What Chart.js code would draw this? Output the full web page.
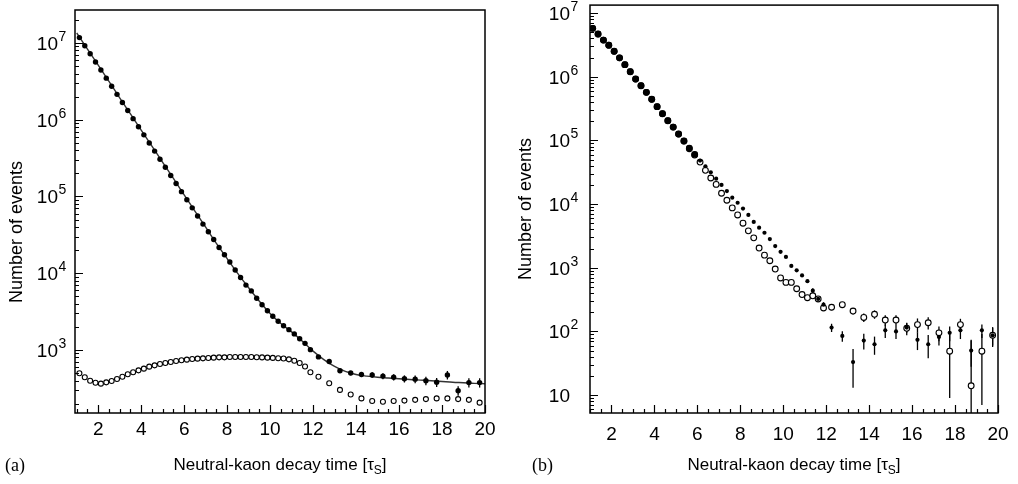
<!DOCTYPE html>
<html><head><meta charset="utf-8">
<script src="https://cdn.jsdelivr.net/npm/chart.js@4.4.1/dist/chart.umd.min.js"></script>
<style>
html,body{margin:0;padding:0;background:#fff;width:1018px;height:484px;overflow:hidden}
#wa{position:absolute;left:0;top:0;width:500px;height:484px}
#wb{position:absolute;left:500px;top:0;width:518px;height:484px}
</style></head><body>
<div id="wa"><canvas id="ca"></canvas></div>
<div id="wb"><canvas id="cb"></canvas></div>
<script>
// ---------- data ----------
const xBins = [1.125,1.375,1.625,1.875,2.125,2.375,2.625,2.875,3.125,3.375,3.625,3.875,4.125,4.375,4.625,4.875,5.125,5.375,5.625,5.875,6.125,6.375,6.625,6.875,7.125,7.375,7.625,7.875,8.125,8.375,8.625,8.875,9.125,9.375,9.625,9.875,10.125,10.375,10.625,10.875,11.125,11.375,11.625,11.875,
  12.25,12.75,13.25,13.75,14.25,14.75,15.25,15.75,16.25,16.75,17.25,17.75,18.25,18.75,19.25,19.75];

// panel (a)
const aFilled = [11750000,9200000,7230000,5660000,4450000,3480000,2730000,2140000,1680000,1318000,1033000,809000,635000,498000,390000,306000,240000,188000,147600,115600,90600,71100,55700,43700,34700,27500,21600,17400,14000,11000,8810,7000,5890,4730,3890,3240,2750,2370,2070,1840,1620,1400,1220,1010,
  813,708,537,501,479,473,457,442,422,417,398,380,473,295,376,376];
const aFilledErr = [null,null,null,null,null,null,null,null,null,null,null,null,null,null,null,null,null,null,null,null,null,null,null,null,null,null,null,null,null,null,null,null,null,null,null,null,null,null,null,null,40,37,35,32,
  30,30,30,32,35,38,40,42,45,48,50,50,60,42,52,52];
const aOpen = [497,441,398,375,364,379,394,419,449,482,512,543,571,607,631,658,676,698,719,735,748,764,771,778,787,794,802,802,811,811,811,811,811,805,800,794,789,782,773,755,724,676,610,513,
  449,368,302,263,234,216,212,216,219,224,229,234,234,229,224,206];
const aFitX = [1,1.5,2,2.5,3,3.5,4,4.5,5,5.5,6,6.5,7,7.5,8,8.5,9,9.5,10,10.5,11,11.5,12,12.5,13,13.5,14,14.5,15,15.5,16,16.5,17,17.5,18,18.5,19,19.5,20];
const aFitY = [13490000,8320000,5130000,3160000,1930000,1190000,733000,452000,279000,172000,104700,64600,39800,24500,15500,9890,6460,4320,2990,2210,1720,1300,966,750,610,525,479,457,442,432,422,412,405,398,389,380,374,367,363];

// panel (b)
const bFilled = [5750000,4680000,3760000,3130000,2510000,1980000,1550000,1200000,920000,724000,569000,442000,339000,263000,204000,162000,126000,97700,75900,60300,48200,39300,31600,25100,20000,16000,12600,10500,8510,6760,5250,4270,3550,2820,2190,1780,1480,1070,912,759,617,437,324,263,
  115,85,33,72,63,104,100,115,74,63,82,95,104,50,104,87];
const bFilledErr = [null,null,null,null,null,null,null,null,null,null,null,null,null,null,null,null,null,null,null,null,null,null,null,null,null,null,null,null,null,null,null,null,null,null,null,null,null,null,null,null,null,40,30,25,
  17,16,20,20,20,25,24,20,23,25,22,25,28,22,25,27];
const bOpen = [5750000,4680000,3760000,3130000,2510000,1980000,1550000,1200000,920000,724000,569000,442000,339000,263000,204000,162000,126000,97700,74100,58900,45700,33900,25700,20400,14800,11500,8710,6760,5010,3800,2950,2040,1580,1290,955,692,589,589,468,380,339,363,324,234,
  240,263,209,166,186,151,151,112,128,137,95,49,128,14,49,87];
const bOpenErr = [null,null,null,null,null,null,null,null,null,null,null,null,null,null,null,null,null,null,null,null,null,null,null,null,null,null,null,null,null,null,null,null,null,null,null,null,null,null,null,null,null,null,null,null,
  25,25,25,25,28,28,28,25,32,30,25,40,30,60,42,30];

// ticks and texts
const xTickVals = [2,4,6,8,10,12,14,16,18,20];
const xTickLabels = ['2','4','6','8','10','12','14','16','18','20'];
const aYTickVals = [1e3,1e4,1e5,1e6,1e7];
const aYTickLabels = [['10','3'],['10','4'],['10','5'],['10','6'],['10','7']];
const bYTickVals = [10,1e2,1e3,1e4,1e5,1e6,1e7];
const bYTickLabels = [['10',''],['10','2'],['10','3'],['10','4'],['10','5'],['10','6'],['10','7']];
const xTitleParts = ['Neutral-kaon decay time [τ','S',']'];
const yTitle = 'Number of events';

// ---------- drawing ----------
const FONT = '"Liberation Sans", Arial, Helvetica, sans-serif';
const SERIF = '"Liberation Serif", "Times New Roman", serif';

const decor = {
  id: 'decor',
  beforeDatasetsDraw(chart) {
    const {ctx, chartArea: ca} = chart;
    const ys = chart.scales.y;
    ctx.save();
    ctx.beginPath(); ctx.rect(ca.left, ca.top, ca.width, ca.height); ctx.clip();
    ctx.strokeStyle = '#000'; ctx.lineWidth = 1.3;
    chart.data.datasets.forEach((ds, i) => {
      if (!ds.errors) return;
      const meta = chart.getDatasetMeta(i);
      meta.data.forEach((pt, j) => {
        const e = ds.errors[j];
        if (e == null) return;
        const v = ds.data[j].y;
        const y1 = ys.getPixelForValue(v + e);
        const y2 = (v - e) > 0 ? ys.getPixelForValue(v - e) : ca.bottom + 2;
        ctx.beginPath(); ctx.moveTo(pt.x, y1); ctx.lineTo(pt.x, y2); ctx.stroke();
      });
    });
    ctx.restore();
  },
  afterDraw(chart, args, opts) {
    const {ctx, chartArea: ca} = chart;
    const xs = chart.scales.x, ys = chart.scales.y;
    ctx.save();
    ctx.strokeStyle = '#000';
    // ticks (inward)
    ctx.lineWidth = 1.2;
    ctx.beginPath();
    for (let v = Math.ceil(xs.min * 2) / 2; v <= xs.max + 1e-9; v += 0.5) {
      const px = Math.round(xs.getPixelForValue(v)) + 0.5;
      const major = Math.abs(v / 2 - Math.round(v / 2)) < 1e-6;
      const len = major ? 8 : 4;
      ctx.moveTo(px, ca.bottom); ctx.lineTo(px, ca.bottom - len);
    }
    const d0 = Math.floor(Math.log10(ys.min)), d1 = Math.ceil(Math.log10(ys.max));
    for (let d = d0; d <= d1; d++) {
      for (let k = 1; k <= 9; k++) {
        const v = k * Math.pow(10, d);
        if (v < ys.min || v > ys.max) continue;
        const py = Math.round(ys.getPixelForValue(v)) + 0.5;
        const len = k === 1 ? 8 : 4;
        ctx.moveTo(ca.left, py); ctx.lineTo(ca.left + len, py);
      }
    }
    ctx.stroke();
    // frame
    ctx.lineWidth = 1.5;
    ctx.strokeRect(ca.left, ca.top, ca.width, ca.height);
    ctx.fillStyle = '#000';
    // y tick labels with superscript exponents
    const baseX = ca.left - opts.ytGap;
    opts.yVals.forEach((v, i) => {
      const py = ys.getPixelForValue(v);
      const [b, e] = opts.yLabels[i];
      ctx.font = `19px ${FONT}`;
      ctx.textAlign = 'right'; ctx.textBaseline = 'alphabetic';
      ctx.fillText(b, baseX, py + 7);
      if (e) {
        ctx.font = `14px ${FONT}`;
        ctx.textAlign = 'left';
        ctx.fillText(e, baseX + 0.5, py - 2);
      }
    });
    // x title with subscript
    ctx.textBaseline = 'alphabetic';
    ctx.textAlign = 'left';
    ctx.font = `17px ${FONT}`;
    const w0 = ctx.measureText(xTitleParts[0]).width;
    const w2 = ctx.measureText(xTitleParts[2]).width;
    ctx.font = `12px ${FONT}`;
    const w1 = ctx.measureText(xTitleParts[1]).width;
    let x = (ca.left + ca.right) / 2 - (w0 + w1 + w2) / 2;
    ctx.font = `17px ${FONT}`;
    ctx.fillText(xTitleParts[0], x, opts.xTitleY); x += w0;
    ctx.font = `12px ${FONT}`;
    ctx.fillText(xTitleParts[1], x, opts.xTitleY + 4); x += w1;
    ctx.font = `17px ${FONT}`;
    ctx.fillText(xTitleParts[2], x, opts.xTitleY);
    // y title
    ctx.save();
    ctx.translate(opts.yTitleX, opts.yTitleY);
    ctx.rotate(-Math.PI / 2);
    ctx.font = `18px ${FONT}`;
    ctx.textAlign = 'center'; ctx.textBaseline = 'middle';
    ctx.fillText(yTitle, 0, 0);
    ctx.restore();
    // panel label
    ctx.font = `18px ${SERIF}`;
    ctx.textAlign = 'left'; ctx.textBaseline = 'alphabetic';
    ctx.fillText(opts.label, opts.labelX, opts.xTitleY + 1);
    ctx.restore();
  }
};

function pts(xsArr, ysArr) { return xsArr.map((x, i) => ({x: x, y: ysArr[i]})); }

function makeChart(id, cfg) {
  return new Chart(document.getElementById(id), {
    type: 'scatter',
    data: { datasets: cfg.datasets },
    options: {
      responsive: true, maintainAspectRatio: false, animation: false, devicePixelRatio: 1,
      layout: { padding: { left: 0, right: cfg.padRight, top: cfg.padTop, bottom: 0 } },
      plugins: {
        legend: { display: false }, tooltip: { enabled: false },
        decor: { label: cfg.label, labelX: cfg.labelX, xTitleY: 470, yTitleX: cfg.yTitleX, yTitleY: cfg.yTitleY,
                 ytGap: cfg.ytGap, yVals: cfg.yVals, yLabels: cfg.yLabels }
      },
      scales: {
        x: {
          type: 'linear', min: cfg.xMin, max: cfg.xMax,
          grid: { display: false, drawTicks: false }, border: { display: false },
          ticks: { padding: cfg.xTickPad, color: '#000', font: { family: FONT, size: 19 }, maxRotation: 0, autoSkip: false,
                   callback: (v, i) => xTickLabels[i] },
          afterBuildTicks: s => { s.ticks = xTickVals.map(v => ({ value: v })); },
          afterFit: s => { s.height = 484 - 413; s.paddingLeft = 0; s.paddingRight = 0; }
        },
        y: {
          type: 'logarithmic', min: cfg.yMin, max: cfg.yMax,
          grid: { display: false, drawTicks: false }, border: { display: false },
          ticks: { display: false },
          afterBuildTicks: s => { s.ticks = cfg.yVals.map(v => ({ value: v })); },
          afterFit: s => { s.width = cfg.yWidth; s.paddingTop = 0; s.paddingBottom = 0; }
        }
      }
    },
    plugins: [decor]
  });
}

makeChart('ca', {
  label: '(a)', labelX: 5, yTitleX: 17, yTitleY: 232,
  xMin: 0.92, xMax: 20, yMin: 151, yMax: 2.69e7,
  padTop: 10, padRight: 15, yWidth: 75, xTickPad: 5, ytGap: 17,
  yVals: aYTickVals, yLabels: aYTickLabels,
  datasets: [
    { data: pts(xBins, aFilled), errors: aFilledErr, order: 0, pointRadius: 2.7, pointBackgroundColor: '#000', pointBorderColor: '#000', pointBorderWidth: 0 },
    { data: pts(xBins, aOpen), order: 1, pointRadius: 2.5, pointBackgroundColor: '#fff', pointBorderColor: '#000', pointBorderWidth: 1.1 },
    { data: pts(aFitX, aFitY), order: 2, showLine: true, pointRadius: 0, borderColor: '#333', borderWidth: 1.4, cubicInterpolationMode: 'monotone', fill: false }
  ]
});

makeChart('cb', {
  label: '(b)', labelX: 32, yTitleX: 26, yTitleY: 209,
  xMin: 1, xMax: 20, yMin: 5.24, yMax: 1.334e7,
  padTop: 3, padRight: 20, yWidth: 90, xTickPad: 10, ytGap: 20,
  yVals: bYTickVals, yLabels: bYTickLabels,
  datasets: [
    { data: pts(xBins, bFilled), errors: bFilledErr, order: 0,
      pointRadius: c => (c.dataIndex < 20 && Math.abs(Math.log10(bOpen[c.dataIndex] / bFilled[c.dataIndex])) < 0.03 ? 3.4 : 2.1),
      pointBackgroundColor: '#000', pointBorderColor: '#000', pointBorderWidth: 0 },
    { data: pts(xBins, bOpen), errors: bOpenErr, order: 1, pointRadius: 2.9, pointBackgroundColor: '#fff', pointBorderColor: '#000', pointBorderWidth: 1.1 }
  ]
});
</script>
</body></html>
